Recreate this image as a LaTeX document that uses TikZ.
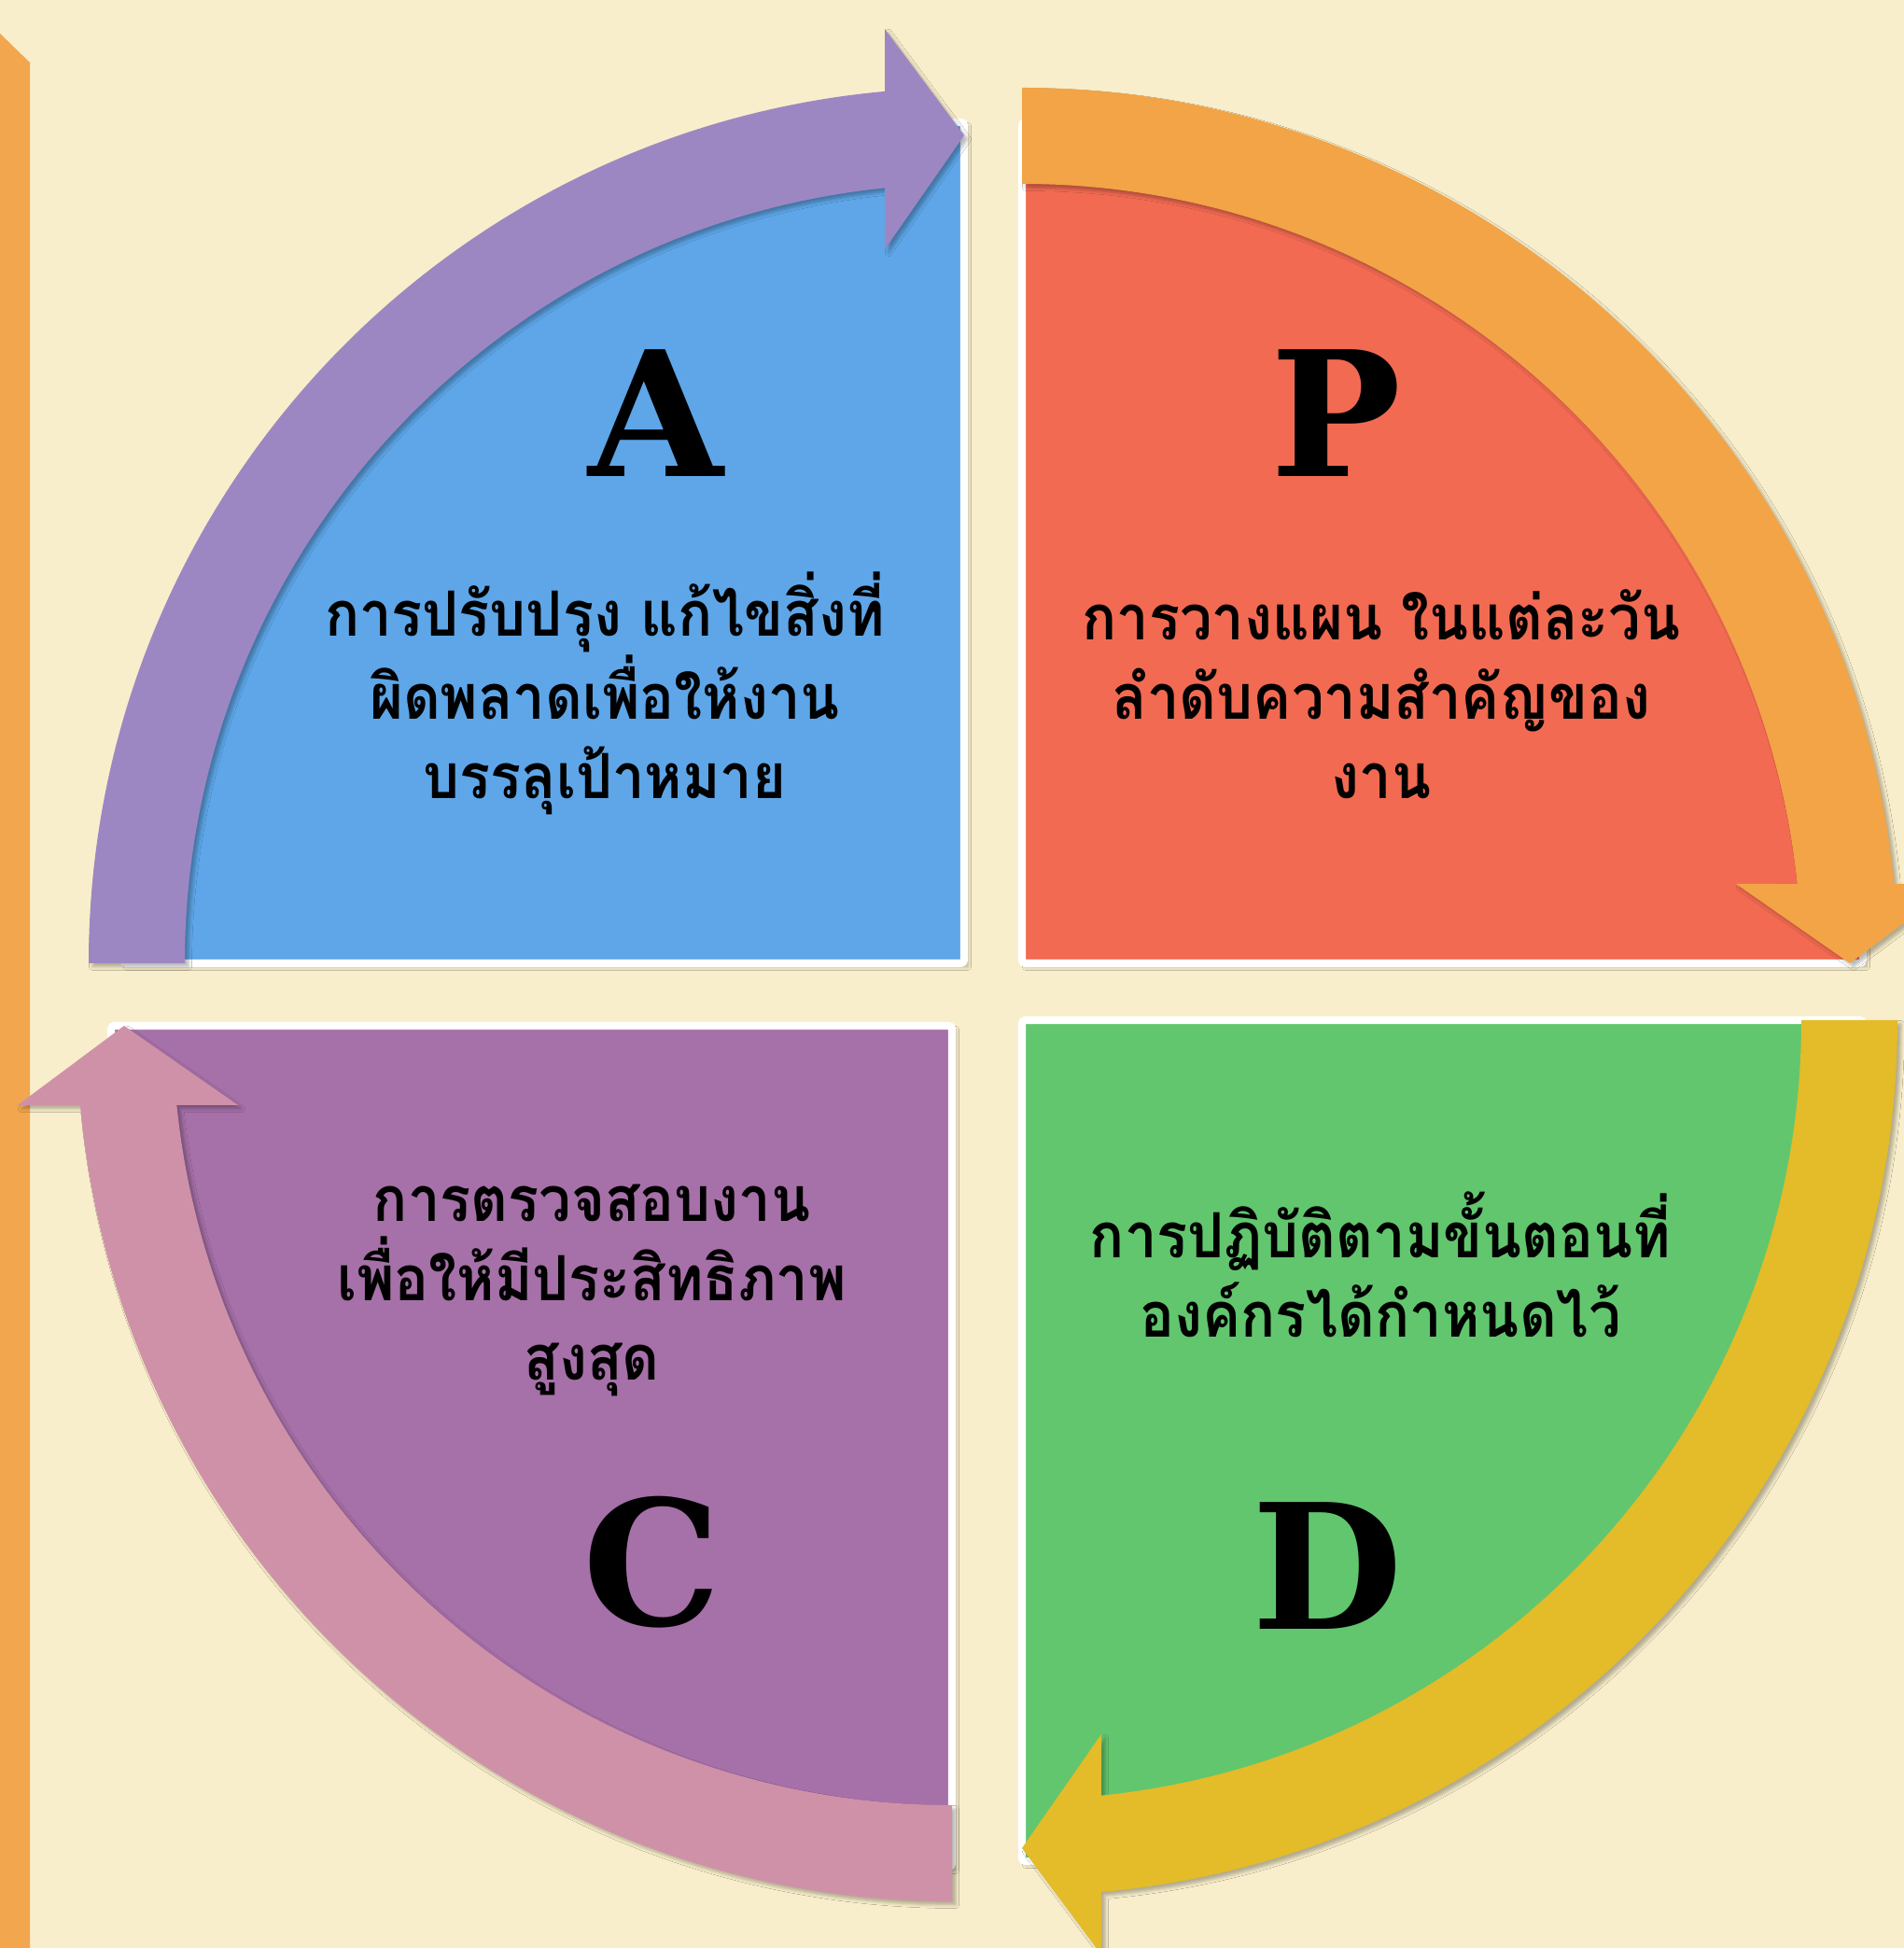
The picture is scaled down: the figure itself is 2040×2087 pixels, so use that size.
\documentclass[tikz,border=0pt]{standalone}
\usepackage{fontspec}
\setmainfont{DejaVu Serif}
\newfontfamily\thaifont[Script=Thai,FakeStretch=0.92]{Loma}
\usetikzlibrary{positioning,shadows.blur}
\definecolor{paper}{HTML}{F8EECB}
\definecolor{sidebar}{HTML}{F2A64D}
\definecolor{actfill}{HTML}{5EA6E8}
\definecolor{actarrow}{HTML}{9D87C2}
\definecolor{planfill}{HTML}{F26A52}
\definecolor{planarrow}{HTML}{F2A446}
\definecolor{dofill}{HTML}{62C66E}
\definecolor{doarrow}{HTML}{E4BB28}
\definecolor{checkfill}{HTML}{A670A8}
\definecolor{checkarrow}{HTML}{CF91A8}
\tikzstyle{quarter}=[
	draw=white,
	line width=2.3pt,
	rounded corners=1pt]
\tikzstyle{softshadow}=[
	blur shadow={shadow xshift=0pt,shadow yshift=0pt,shadow blur radius=1pt,shadow opacity=28}]
\tikzstyle{letter}=[
	font=\fontsize{53}{53}\selectfont\bfseries,
	anchor=base]
\tikzstyle{words}=[
	font=\thaifont\bfseries\fontsize{19}{24.2}\selectfont,
	align=center,
	anchor=base]
% one quarter, drawn for the upper right and turned into place
\newcommand{\quarterpie}[1]{%
	\path[#1] (0,0) -- (0,901) arc[start angle=90,end angle=0,radius=901] -- cycle;}
\newcommand{\quarterarrow}[1]{%
	\path[#1] (90:938) arc[start angle=90,end angle=5.199,radius=938]
		-- (1001,85) -- (887,0) -- (765,85) -- (5.843:835)
		arc[start angle=5.843,end angle=90,radius=835] -- cycle;}
% centre, turn, colour of the pie, colour of the arrow
\newcommand{\pdcaquarter}[4]{%
	\begin{scope}[shift={#1},shift={(4,-4)},rotate=#2]
	\quarterpie{softshadow}
	\end{scope}
	\begin{scope}[shift={#1},rotate=#2]
	\quarterpie{fill=#3,quarter}
	\end{scope}
	\begin{scope}[shift={#1},shift={(4,-4)},rotate=#2]
	\quarterarrow{softshadow}
	\end{scope}
	\begin{scope}[shift={#1},rotate=#2]
	\quarterarrow{fill=#4}
	\end{scope}}
\begin{document}
\begin{tikzpicture}[x=0.01cm,y=0.01cm]
	\fill[paper] (0,0) rectangle (2040,2087);
	\useasboundingbox (0,0) rectangle (2040,2087);
	\fill[sidebar] (0,0) -- (0,2051) -- (32,2020) -- (32,0) -- cycle;
	% the four quarters
	\pdcaquarter{(1033,1055)}{90}{actfill}{actarrow}
	\pdcaquarter{(1095,1055)}{0}{planfill}{planarrow}
	\pdcaquarter{(1095,994)}{-90}{dofill}{doarrow}
	\pdcaquarter{(1020,988)}{180}{checkfill}{checkarrow}
	% letters and texts
	\node[letter] (act) at (703,1576) {A};
	\node[letter] (plan) at (1432,1576) {P};
	\node[letter] (check) at (699,345) {C};
	\node[letter] (do) at (1422,341) {D};
	\node[words] (acttext) at (648,1231) {การปรับปรุง แก้ไขสิ่งที่\\ผิดพลาดเพื่อให้งาน\\บรรลุเป้าหมาย};
	\node[words] (plantext) at (1480,1231) {การวางแผน ในแต่ละวัน\\ลำดับความสำคัญของ\\งาน};
	\node[words] (checktext) at (634,608) {การตรวจสอบงาน\\เพื่อให้มีประสิทธิภาพ\\สูงสุด};
	\node[words] (dotext) at (1479,654) {การปฏิบัติตามขั้นตอนที่\\องค์กรได้กำหนดไว้};
\end{tikzpicture}
\end{document}
